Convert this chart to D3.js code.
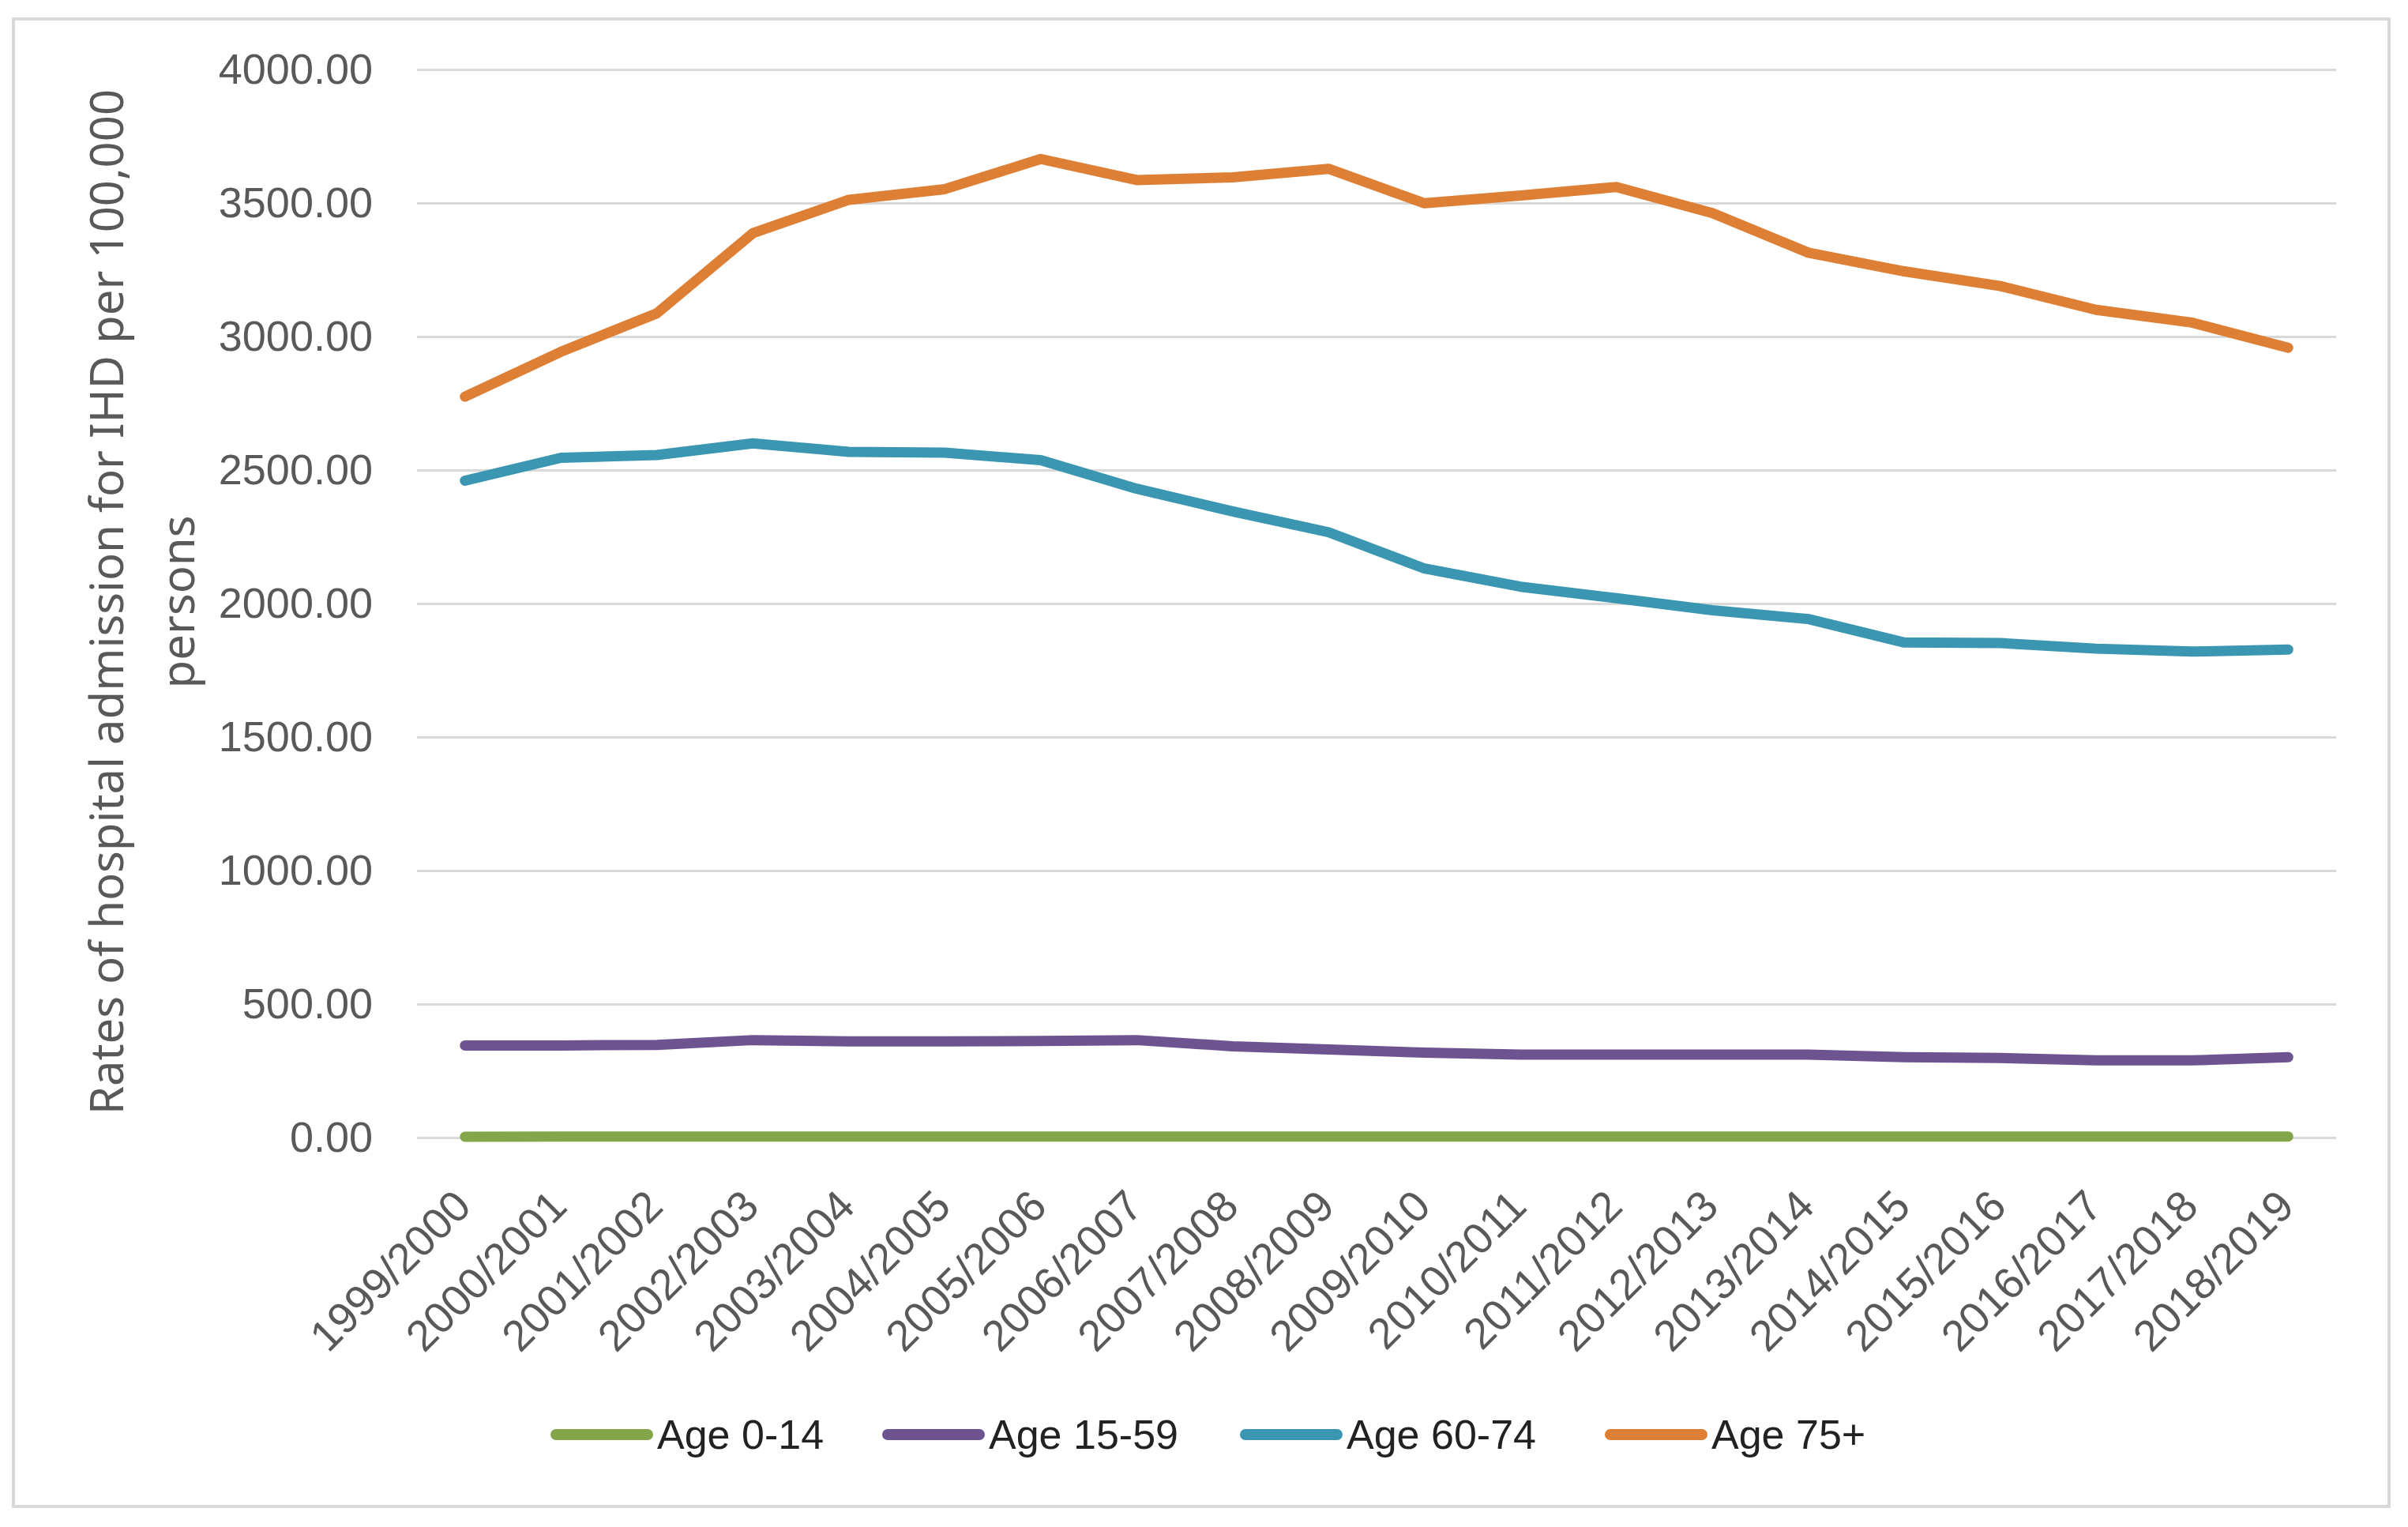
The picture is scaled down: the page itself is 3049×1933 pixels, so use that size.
<!DOCTYPE html>
<html lang="en">
<head>
<meta charset="UTF-8">
<title>IHD admission rates</title>
<script src="https://cdn.jsdelivr.net/npm/d3@7"></script>
<style>
  body { margin: 0; background: #fff; }
  svg { display: block; }
</style>
</head>
<body>
<div id="chart"></div>
<script>
const categories = ["1999/2000", "2000/2001", "2001/2002", "2002/2003", "2003/2004",
  "2004/2005", "2005/2006", "2006/2007", "2007/2008", "2008/2009", "2009/2010",
  "2010/2011", "2011/2012", "2012/2013", "2013/2014", "2014/2015", "2015/2016",
  "2016/2017", "2017/2018", "2018/2019"]

const age0_14 = [3, 4, 4, 4, 4, 4, 4, 4, 4, 4, 4, 4, 4, 4, 4, 4, 4, 4, 4, 4]
const age15_59 = [345, 345, 347, 365, 360, 360, 362, 365, 342, 330, 318, 311, 311, 311, 311, 301, 298, 289, 289, 301]
const age60_74 = [2460, 2546, 2556, 2600, 2568, 2565, 2537, 2430, 2345, 2267, 2131, 2063, 2020, 1975, 1942, 1854, 1852, 1831, 1820, 1828]
const age75 = [2775, 2943, 3087, 3387, 3512, 3552, 3665, 3586, 3596, 3628, 3499, 3528, 3560, 3462, 3314, 3244, 3189, 3100, 3052, 2958]

const seriesNames = ["Age 0-14", "Age 15-59", "Age 60-74", "Age 75+"]
const seriesColors = ["#84a64b", "#6d5390", "#3b97b1", "#dd7f34"]
const yTicks = [0, 500, 1000, 1500, 2000, 2500, 3000, 3500, 4000]

const w = 3049
const h = 1933
const plot = { left: 528, right: 2958, top: 88, bottom: 1440 }

const svg = d3.select("#chart").append("svg")
  .attr("width", w)
  .attr("height", h)

// outer frame
svg.append("rect")
  .attr("x", 17).attr("y", 24)
  .attr("width", 3008).attr("height", 1883)
  .attr("fill", "#fff")
  .attr("stroke", "#d9d9d9")
  .attr("stroke-width", 4)

const xScale = d3.scalePoint()
  .domain(categories)
  .range([plot.left, plot.right])
  .padding(0.5)

const yScale = d3.scaleLinear()
  .domain([0, 4000])
  .range([plot.bottom, plot.top])

// y axis with gridlines
const yAxis = svg.append("g")
  .attr("transform", `translate(${plot.left}, 0)`)
  .call(d3.axisLeft(yScale)
    .tickValues(yTicks)
    .tickFormat(d3.format(".2f"))
    .tickSize(-(plot.right - plot.left))
    .tickPadding(56))
yAxis.select(".domain").remove()
yAxis.selectAll(".tick line")
  .attr("stroke", "#d9d9d9")
  .attr("stroke-width", 3)
yAxis.selectAll(".tick text")
  .attr("fill", "#595959")
  .style("font-family", "Liberation Sans, Arial, sans-serif")
  .style("font-size", "54px")

// x axis labels
const xAxis = svg.append("g")
  .attr("transform", `translate(0, ${plot.bottom})`)
  .call(d3.axisBottom(xScale).tickSize(0).tickPadding(0))
xAxis.select(".domain").remove()
xAxis.selectAll(".tick text")
  .attr("fill", "#595959")
  .attr("text-anchor", "end")
  .attr("dy", 0)
  .attr("transform", "translate(10, 90) rotate(-45)")
  .style("font-family", "Liberation Sans, Arial, sans-serif")
  .style("font-size", "55px")

// lines
const allSeries = [age0_14, age15_59, age60_74, age75]
const line = d3.line()
  .x((d, i) => xScale(categories[i]))
  .y(d => yScale(d))

svg.selectAll(".series")
  .data(allSeries)
  .enter()
  .append("path")
  .attr("class", "series")
  .attr("d", d => line(d))
  .attr("fill", "none")
  .attr("stroke", (d, i) => seriesColors[i])
  .attr("stroke-width", 13)
  .attr("stroke-linejoin", "round")
  .attr("stroke-linecap", "round")

// y axis title
svg.append("text")
  .attr("transform", "translate(156, 762) rotate(-90)")
  .attr("text-anchor", "middle")
  .attr("fill", "#595959")
  .style("font-family", "Noto Sans, sans-serif")
  .style("font-size", "58px")
  .call(t => {
    t.append("tspan").attr("x", 0).attr("y", 0).text("Rates of hospital admission for IHD  per 100,000")
    t.append("tspan").attr("x", 0).attr("y", 90).text("persons")
  })

// legend
const legendItems = [
  { x: 698, name: seriesNames[0], color: seriesColors[0] },
  { x: 1118, name: seriesNames[1], color: seriesColors[1] },
  { x: 1571, name: seriesNames[2], color: seriesColors[2] },
  { x: 2033, name: seriesNames[3], color: seriesColors[3] }
]
const legend = svg.append("g").attr("transform", "translate(0, 1816)")
const item = legend.selectAll("g")
  .data(legendItems)
  .enter()
  .append("g")
  .attr("transform", d => `translate(${d.x}, 0)`)
item.append("line")
  .attr("x1", 6).attr("x2", 122)
  .attr("y1", 0).attr("y2", 0)
  .attr("stroke", d => d.color)
  .attr("stroke-width", 14)
  .attr("stroke-linecap", "round")
item.append("text")
  .attr("x", 134)
  .attr("y", 18)
  .attr("fill", "#222")
  .style("font-family", "Liberation Sans, Arial, sans-serif")
  .style("font-size", "52px")
  .text(d => d.name)
</script>
</body>
</html>
